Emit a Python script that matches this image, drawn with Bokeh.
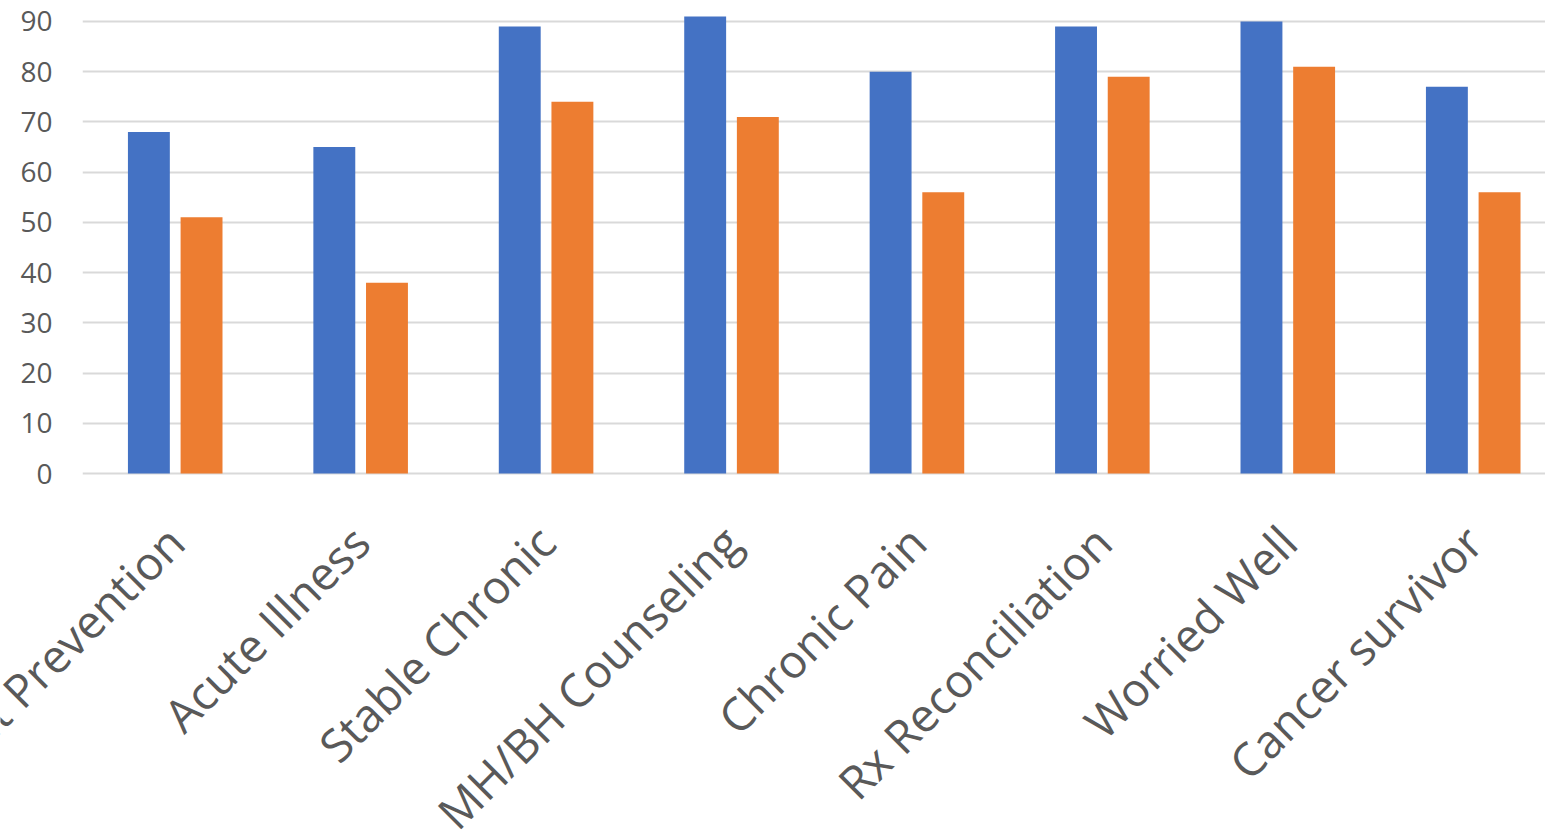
import math
from bokeh.plotting import figure
from bokeh.models import ColumnDataSource, Range1d, FixedTicker
from bokeh.core.properties import value
from bokeh.embed import file_html
from bokeh.resources import INLINE

categories = ["Health Maint Prevention", "Acute Illness", "Stable Chronic", "MH/BH Counseling",
              "Chronic Pain", "Rx Reconciliation", "Worried Well", "Cancer survivor"]
series_blue = [68, 65, 89, 91, 80, 89, 90, 77]
series_orange = [51, 38, 74, 71, 56, 79, 81, 56]
y_ticks = [0, 10, 20, 30, 40, 50, 60, 70, 80, 90]

BLUE = "#4472C4"
ORANGE = "#ED7D31"
GRAY = "#595959"
GRID = "#D9D9D9"

W = 1545
LEFT = 82
GROUP_PX = 185.43
ZERO_PX = 473          # screen y of value 0
MAIN_H = 500
PX_PER_UNIT = 473 / 94.18
LABEL_H = 838 - MAIN_H
LABEL_ANCHOR_PX = 533  # screen y of the label anchors

centers = [i + 0.5 for i in range(len(categories))]
src = ColumnDataSource(dict(
    xb=[c - 0.142 for c in centers],
    xo=[c + 0.142 for c in centers],
    blue=series_blue,
    orange=series_orange,
))

y0 = -(MAIN_H - ZERO_PX) / PX_PER_UNIT
p = figure(width=W, height=MAIN_H, output_backend="svg", toolbar_location=None,
           x_range=Range1d(0, (W - LEFT) / GROUP_PX), y_range=Range1d(y0, 94.18),
           x_axis_type=None,
           min_border_left=LEFT, min_border_right=0, min_border_top=0, min_border_bottom=0)
p.outline_line_color = None
p.background_fill_color = "white"
p.border_fill_color = "white"

p.vbar(x="xb", top="blue", width=0.226, bottom=0, source=src, fill_color=BLUE, line_color=None)
p.vbar(x="xo", top="orange", width=0.226, bottom=0, source=src, fill_color=ORANGE, line_color=None)

p.ygrid.grid_line_color = GRID
p.ygrid.grid_line_width = 2
p.ygrid.level = "underlay"
p.ygrid.ticker = FixedTicker(ticks=y_ticks)

p.yaxis.ticker = FixedTicker(ticks=y_ticks)
p.yaxis.axis_line_color = None
p.yaxis.major_tick_line_color = None
p.yaxis.minor_tick_line_color = None
p.yaxis.major_tick_out = 0
p.yaxis.major_label_standoff = 30
p.yaxis.major_label_text_font = "Open Sans"
p.yaxis.major_label_text_font_size = "28px"
p.yaxis.major_label_text_color = GRAY

# category labels: a strip below the chart using the same x scale (offset by the left border)
q = figure(width=W, height=LABEL_H, output_backend="svg", toolbar_location=None,
           x_range=Range1d(-LEFT / GROUP_PX, (W - LEFT) / GROUP_PX),
           y_range=Range1d(LABEL_H, 0), x_axis_type=None, y_axis_type=None,
           min_border_left=0, min_border_right=0, min_border_top=0, min_border_bottom=0)
q.outline_line_color = None
q.grid.visible = False
lab_src = ColumnDataSource(dict(x=centers,
                                y=[LABEL_ANCHOR_PX - MAIN_H] * len(centers),
                                text=categories))
q.text(x="x", y="y", text="text", source=lab_src, angle=math.pi / 4,
       text_align="right", text_baseline="middle",
       text_font=value("Open Sans"), text_font_size="46px", text_color=GRAY)

open("out.html", "w").write(file_html([p, q], INLINE))
